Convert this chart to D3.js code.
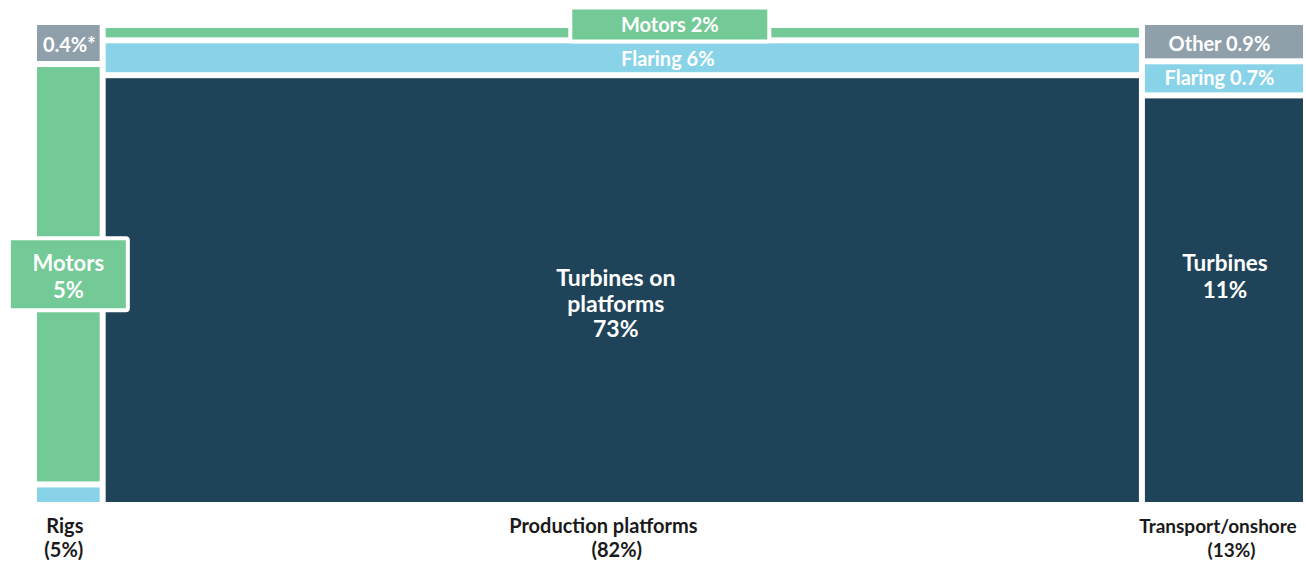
<!DOCTYPE html>
<html>
<head>
<meta charset="utf-8">
<script src="https://cdn.jsdelivr.net/npm/d3@7"></script>
<style>
  html, body { margin: 0; padding: 0; background: #ffffff; }
  svg { display: block; font-family: Lato, "Noto Sans", sans-serif; }
</style>
</head>
<body>
<svg id="chart" width="1306" height="565"></svg>
<script>
// ---- Data ----
const columns = ["Rigs", "Production platforms", "Transport/onshore"];
const columnShares = [5.4, 81.7, 12.9];           // % of total (column widths)
const columnShareLabels = ["(5%)", "(82%)", "(13%)"];

// segments per column, bottom to top, values in % of total
const rigsSegments = ["Flaring", "Motors", "Other"];
const rigsValues = [0.23, 4.70, 0.47];
const productionSegments = ["Turbines", "Flaring", "Motors"];
const productionValues = [72.7, 5.9, 2.6];
const transportSegments = ["Turbines", "Flaring", "Other"];
const transportValues = [10.94, 0.91, 1.05];

// label texts
const rigsLabels = ["", "Motors\n5%", "0.4%*"];
const productionLabels = ["Turbines on\nplatforms\n73%", "Flaring 6%", "Motors 2%"];
const transportLabels = ["Turbines\n11%", "Flaring 0.7%", "Other 0.9%"];

const segmentTypes = ["Turbines", "Flaring", "Motors", "Other"];
const segmentColors = ["#1f4459", "#89d3e8", "#73ca96", "#8fa0ab"];

// ---- Layout ----
const gapX = 6, gapY = 6;
const svg = d3.select("#chart");
const color = d3.scaleOrdinal().domain(segmentTypes).range(segmentColors);
const x = d3.scaleLinear().domain([0, d3.sum(columnShares)]).range([34, 1306]);

const colData = columns.map((name, i) => {
  const segs = [rigsSegments, productionSegments, transportSegments][i];
  const vals = [rigsValues, productionValues, transportValues][i];
  const labs = [rigsLabels, productionLabels, transportLabels][i];
  const start = d3.sum(columnShares.slice(0, i));
  const y = d3.scaleLinear().domain([0, columnShares[i]]).range([505, 22]);
  let acc = 0;
  const items = segs.map((s, j) => {
    const d = { type: s, v0: acc, v1: acc + vals[j], label: labs[j] };
    acc += vals[j];
    return d;
  });
  return { name, i, x0: x(start), x1: x(start + columnShares[i]), y, items };
});

// label placement tweaks (layout only)
const labelPos = {
  "0-1": { box: true, w: 119, h: 72, dy: 1, fs: 22, lh: 27 },
  "0-2": { dx: 1, dy: 0.5 },
  "1-0": { dx: -6.5, dy: 12, fs: 23, lh: 25.7 },
  "1-1": { dx: 45.5, dy: 0 },
  "1-2": { box: true, w: 199, h: 34, dx: 47.5, cy: 24.5, dy: -1 },
  "2-0": { dx: 1, dy: -25, fs: 22.5, lh: 26.5 },
  "2-1": { dx: -4.5, dy: -2 },
  "2-2": { dx: -4.5, dy: 1 }
};

const g = svg.append("g");

colData.forEach(col => {
  const cg = g.append("g");
  cg.selectAll("rect.seg")
    .data(col.items)
    .join("rect")
    .attr("class", "seg")
    .attr("x", col.x0 + gapX / 2)
    .attr("width", col.x1 - col.x0 - gapX)
    .attr("y", d => col.y(d.v1) + gapY / 2)
    .attr("height", d => Math.max(0, col.y(d.v0) - col.y(d.v1) - gapY))
    .attr("fill", d => color(d.type));
});

colData.forEach(col => {
  col.items.forEach((d, j) => {
    if (!d.label) return;
    const p = labelPos[col.i + "-" + j] || {};
    const fs = p.fs || 20, lh = p.lh || 26;
    const cx = (col.x0 + col.x1) / 2 + (p.dx || 0);
    const cy = p.cy !== undefined ? p.cy : (col.y(d.v0) + col.y(d.v1)) / 2;
    const lines = d.label.split("\n");
    if (p.box) {
      g.append("rect")
        .attr("x", cx - p.w / 2).attr("y", cy - p.h / 2)
        .attr("width", p.w).attr("height", p.h)
        .attr("rx", 2)
        .attr("fill", color(d.type))
        .attr("stroke", "#ffffff").attr("stroke-width", 4);
    }
    const t = g.append("text")
      .attr("text-anchor", "middle")
      .attr("fill", "#ffffff")
      .attr("font-weight", 700)
      .attr("font-size", fs);
    lines.forEach((ln, k) => {
      t.append("tspan")
        .attr("x", cx)
        .attr("y", cy + (p.dy || 0) + (k - (lines.length - 1) / 2) * lh + 0.42 * fs)
        .text(ln);
    });
  });
});

// column labels
const colLabelDx = [[-3.5, -4.5], [-19, -5.5], [-6, 7.5]];
const colLabelSize = [20, 20, 19];
colData.forEach(col => {
  const cx = (col.x0 + col.x1) / 2;
  const t = g.append("text")
    .attr("text-anchor", "middle")
    .attr("fill", "#1a1a1a")
    .attr("font-weight", 700)
    .attr("font-size", colLabelSize[col.i]);
  t.append("tspan").attr("x", cx + colLabelDx[col.i][0]).attr("y", 533).text(col.name);
  t.append("tspan").attr("x", cx + colLabelDx[col.i][1]).attr("y", 557).text(columnShareLabels[col.i]);
});
</script>
</body>
</html>
